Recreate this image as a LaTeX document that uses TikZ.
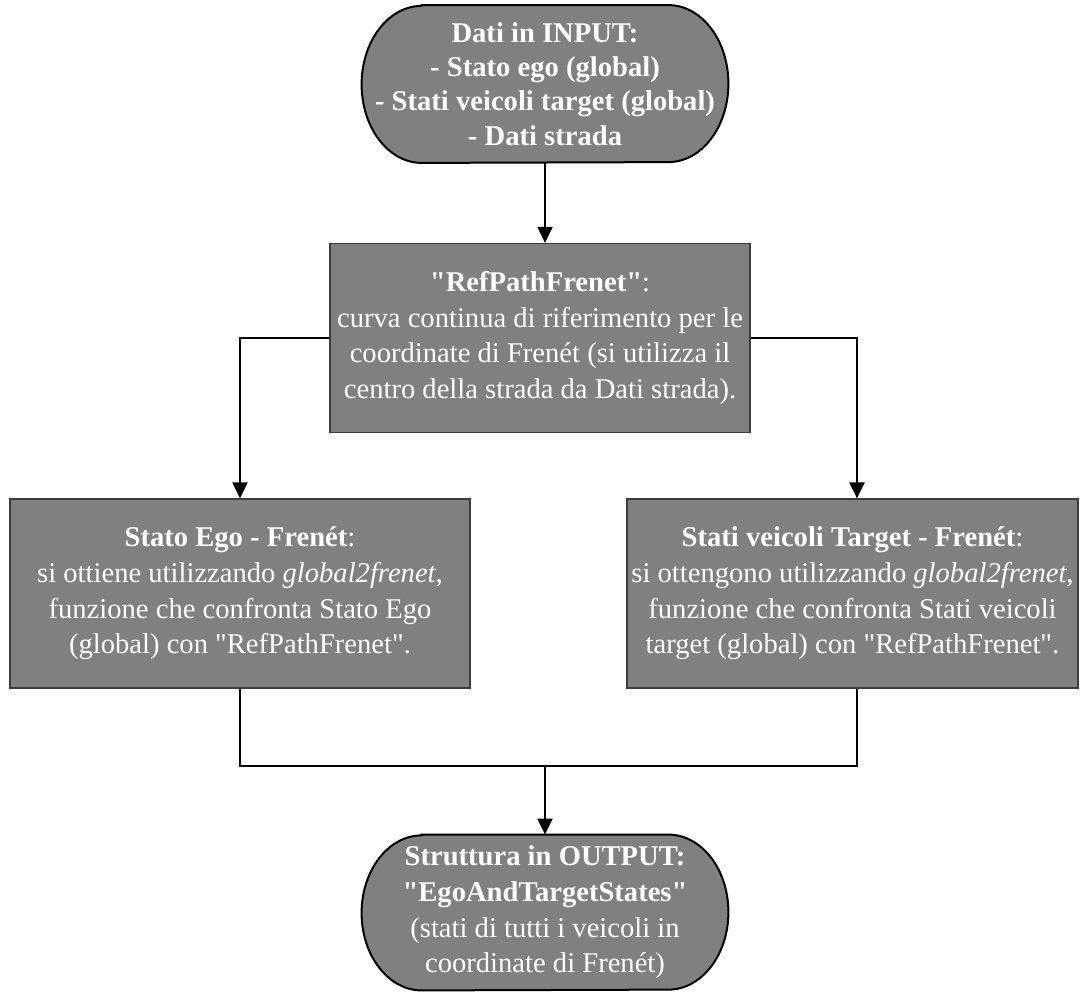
\documentclass[tikz,border=0pt]{standalone}
\usepackage{fontspec}
\setmainfont{Liberation Serif}
\usetikzlibrary{arrows.meta,backgrounds}
\definecolor{boxgray}{HTML}{808080}
\definecolor{edgegray}{HTML}{3C3C3C}
\newcommand{\qq}{\textquotedbl}

\begin{document}
\begin{tikzpicture}[x=0.5pt,y=-0.5pt,
  txt/.style={text=white, align=center, font=\fontsize{14.3}{17.8}\selectfont, inner sep=0pt},
  procbox/.style={txt, rectangle, fill=boxgray, draw=edgegray, line width=0.6pt},
  termtext/.style={txt, rectangle, minimum width=183pt, minimum height=78.5pt},
  termshape/.style={fill=boxgray, draw=black, line width=1pt},
  flow/.style={line width=1pt, -{Triangle[width=7.5pt,length=8pt]}},
  link/.style={line width=1pt}
]
\useasboundingbox (0,0) rectangle (1080,997);

% input terminator
\node[termtext, font=\fontsize{14.3}{17.2}\selectfont\bfseries] (in) at (545,84)
  {Dati in INPUT:\\- Stato ego (global)\\- Stati veicoli target (global)\\- Dati strada};

% reference path box
\node[procbox, minimum width=210pt, minimum height=94.5pt] (ref) at (540,338)
  {\textbf{\qq RefPathFrenet\qq}:\\curva continua di riferimento per le\\coordinate di Frenét (si utilizza il\\centro della strada da Dati strada).};

% ego state box
\node[procbox, minimum width=230pt, minimum height=94.5pt] (ego) at (240,593.5)
  {\textbf{Stato Ego - Frenét}:\\si ottiene utilizzando \textit{global2frenet},\\funzione che confronta Stato Ego\\(global) con \qq RefPathFrenet\qq.};

% target states box
\node[procbox, minimum width=225.5pt, minimum height=94.5pt] (tgt) at (852.5,593.5)
  {\textbf{Stati veicoli Target - Frenét}:\\si ottengono utilizzando \textit{global2frenet},\\funzione che confronta Stati veicoli\\target (global) con \qq RefPathFrenet\qq.};

% output terminator
\node[termtext, minimum height=77.5pt] (out) at (545,912.5)
  {\textbf{Struttura in OUTPUT:}\\\textbf{\qq EgoAndTargetStates\qq}\\(stati di tutti i veicoli in\\coordinate di Frenét)};

% terminator outlines with elliptical ends
\begin{scope}[on background layer]
  \path[termshape] ([xshift=30pt]in.north west) -- ([xshift=-30pt]in.north east)
    arc[start angle=90, end angle=-90, x radius=30pt, y radius=39.25pt]
    -- ([xshift=30pt]in.south west)
    arc[start angle=270, end angle=90, x radius=30pt, y radius=39.25pt] -- cycle;
  \path[termshape] ([xshift=30pt]out.north west) -- ([xshift=-30pt]out.north east)
    arc[start angle=90, end angle=-90, x radius=30pt, y radius=38.75pt]
    -- ([xshift=30pt]out.south west)
    arc[start angle=270, end angle=90, x radius=30pt, y radius=38.75pt] -- cycle;
\end{scope}

\coordinate (rt) at (857,338);
\coordinate (lt) at (240,338);
\coordinate (mj) at (545,766);

\draw[flow] (in.south) -- (in.south |- ref.north);
\draw[flow] (ref.west) -- (lt) -- (lt |- ego.north);
\draw[flow] (ref.east) -- (rt) -- (rt |- tgt.north);
\draw[link] (ego.south) -- (ego.south |- mj) -- (mj -| rt) -- (rt |- tgt.south);
\draw[flow] (mj) -- (out.north);
\end{tikzpicture}
\end{document}
